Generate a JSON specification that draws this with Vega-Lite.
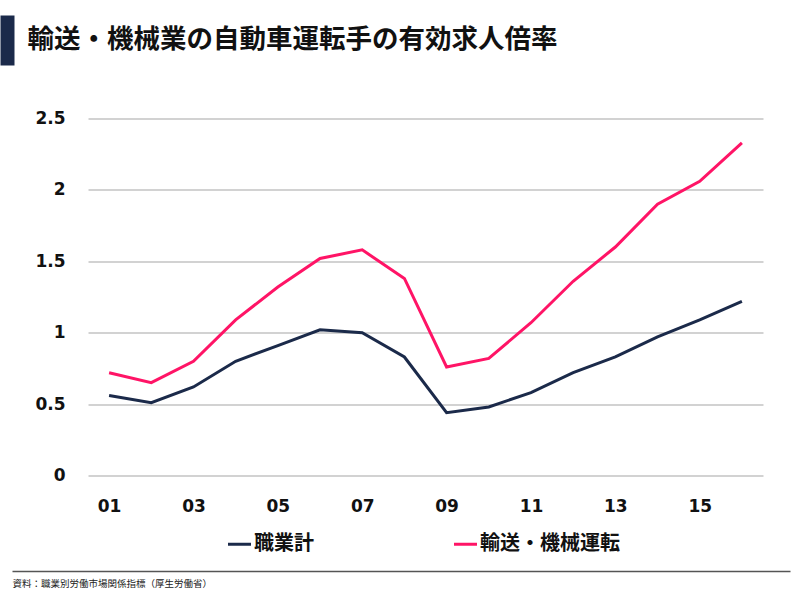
{
  "$schema": "https://vega.github.io/schema/vega-lite/v6.json",
  "background": "white",
  "padding": {"left": 7, "top": 15, "right": 0, "bottom": 0},
  "bounds": "flush",
  "spacing": 53.5,
  "resolve": {"scale": {"color": "independent"}, "legend": {"color": "independent"}},
  "vconcat": [
    {
      "width": 675,
      "height": 50,
      "data": {"values": [{"v": 0}]},
      "mark": {"type": "point", "opacity": 0, "size": 0},
      "encoding": {
        "y": {
          "field": "v",
          "type": "quantitative",
          "scale": {"domain": [0, 1]},
          "axis": {
            "orient": "left",
            "offset": 81,
            "domain": true,
            "domainColor": "#1b2a4a",
            "domainWidth": 14,
            "ticks": false,
            "labels": false,
            "grid": false,
            "title": "輸送・機械業の自動車運転手の有効求人倍率",
            "titleAngle": 0,
            "titleAlign": "left",
            "titleBaseline": "middle",
            "titleX": 20,
            "titleY": 24,
            "titleFontSize": 26.5,
            "titleFontWeight": "bold",
            "titleFont": "Noto Sans CJK JP",
            "titleColor": "#111111"
          }
        }
      }
    },
    {
      "width": 675,
      "height": 357,
      "data": {
        "values": [
          {"year": 1, "series": "職業計", "value": 0.56},
          {"year": 2, "series": "職業計", "value": 0.51},
          {"year": 3, "series": "職業計", "value": 0.62},
          {"year": 4, "series": "職業計", "value": 0.80},
          {"year": 5, "series": "職業計", "value": 0.91},
          {"year": 6, "series": "職業計", "value": 1.02},
          {"year": 7, "series": "職業計", "value": 1.00},
          {"year": 8, "series": "職業計", "value": 0.83},
          {"year": 9, "series": "職業計", "value": 0.44},
          {"year": 10, "series": "職業計", "value": 0.48},
          {"year": 11, "series": "職業計", "value": 0.58},
          {"year": 12, "series": "職業計", "value": 0.72},
          {"year": 13, "series": "職業計", "value": 0.83},
          {"year": 14, "series": "職業計", "value": 0.97},
          {"year": 15, "series": "職業計", "value": 1.09},
          {"year": 16, "series": "職業計", "value": 1.22},
          {"year": 1, "series": "輸送・機械運転", "value": 0.72},
          {"year": 2, "series": "輸送・機械運転", "value": 0.65},
          {"year": 3, "series": "輸送・機械運転", "value": 0.80},
          {"year": 4, "series": "輸送・機械運転", "value": 1.09},
          {"year": 5, "series": "輸送・機械運転", "value": 1.32},
          {"year": 6, "series": "輸送・機械運転", "value": 1.52},
          {"year": 7, "series": "輸送・機械運転", "value": 1.58},
          {"year": 8, "series": "輸送・機械運転", "value": 1.38},
          {"year": 9, "series": "輸送・機械運転", "value": 0.76},
          {"year": 10, "series": "輸送・機械運転", "value": 0.82},
          {"year": 11, "series": "輸送・機械運転", "value": 1.07},
          {"year": 12, "series": "輸送・機械運転", "value": 1.36},
          {"year": 13, "series": "輸送・機械運転", "value": 1.60},
          {"year": 14, "series": "輸送・機械運転", "value": 1.90},
          {"year": 15, "series": "輸送・機械運転", "value": 2.06},
          {"year": 16, "series": "輸送・機械運転", "value": 2.33}
        ]
      },
      "mark": {"type": "line", "strokeWidth": 3},
      "encoding": {
        "x": {
          "field": "year",
          "type": "quantitative",
          "scale": {"domain": [0.5, 16.5], "nice": false, "zero": false},
          "axis": {
            "values": [1, 3, 5, 7, 9, 11, 13, 15],
            "labelExpr": "datum.value < 10 ? '0' + datum.value : '' + datum.value",
            "title": null,
            "grid": false,
            "domain": false,
            "ticks": false,
            "labelPadding": 23,
            "labelFontSize": 17,
            "labelFont": "DejaVu Sans",
            "labelFontWeight": "bold",
            "labelColor": "#111111"
          }
        },
        "y": {
          "field": "value",
          "type": "quantitative",
          "scale": {"domain": [0, 2.5], "nice": false},
          "axis": {
            "values": [0, 0.5, 1, 1.5, 2, 2.5],
            "format": "~g",
            "title": null,
            "domain": false,
            "ticks": false,
            "labelPadding": 23,
            "gridColor": "#a6a6a6",
            "gridWidth": 1.2,
            "labelFontSize": 17,
            "labelFont": "DejaVu Sans",
            "labelFontWeight": "bold",
            "labelColor": "#111111"
          }
        },
        "color": {
          "field": "series",
          "type": "nominal",
          "scale": {"domain": ["職業計", "輸送・機械運転"], "range": ["#1b2a4a", "#ff1466"]},
          "legend": {
            "orient": "none",
            "legendX": 138,
            "legendY": 412,
            "direction": "horizontal",
            "title": null,
            "symbolType": "stroke",
            "symbolStrokeWidth": 3,
            "symbolSize": 530,
            "labelFontSize": 20,
            "labelFont": "Noto Sans CJK JP",
            "labelFontWeight": "bold",
            "labelColor": "#111111",
            "columnPadding": 133,
            "labelOffset": 1
          }
        }
      }
    },
    {
      "width": 702,
      "height": 42,
      "data": {"values": [{"v": 0}]},
      "mark": {"type": "point", "opacity": 0, "size": 0},
      "encoding": {
        "y": {
          "field": "v",
          "type": "quantitative",
          "scale": {"domain": [0, 1]},
          "axis": {
            "orient": "left",
            "offset": -702,
            "values": [0],
            "domain": false,
            "ticks": true,
            "tickSize": 778,
            "tickColor": "#555555",
            "tickWidth": 1.3,
            "labels": false,
            "grid": false,
            "title": "資料：職業別労働市場関係指標（厚生労働省）",
            "titleAngle": 0,
            "titleAlign": "left",
            "titleBaseline": "middle",
            "titleX": -778,
            "titleY": 54,
            "titleFontSize": 9.5,
            "titleFontWeight": "normal",
            "titleFont": "Noto Sans CJK JP",
            "titleColor": "#222222"
          }
        }
      }
    }
  ],
  "config": {"view": {"stroke": null}}
}
